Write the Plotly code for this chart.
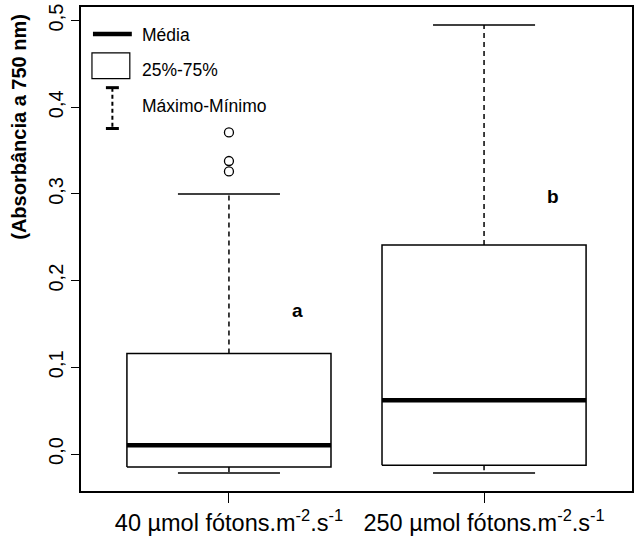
import plotly.graph_objects as go

# Summary statistics of absorbance (750 nm) for each light treatment
groups = ["40 µmol fótons.m<sup>-2</sup>.s<sup>-1</sup>",
          "250 µmol fótons.m<sup>-2</sup>.s<sup>-1</sup>"]
positions = [1, 2]
lower_whisker = [-0.022, -0.022]
q1 = [-0.015, -0.013]
median = [0.010, 0.062]
q3 = [0.116, 0.241]
upper_whisker = [0.300, 0.495]
outliers = [[0.326, 0.338, 0.371], []]

# Significance letters and their heights
sig_letters = ["a", "b"]
sig_y = [0.165, 0.297]

y_ticks = [0.0, 0.1, 0.2, 0.3, 0.4, 0.5]
y_ticktext = ["0,0", "0,1", "0,2", "0,3", "0,4", "0,5"]

FONT = "Arial, Liberation Sans, sans-serif"
BOX_HALF = 0.4
CAP_HALF = 0.2

# Axis range padded by 4% of the data span on each side
all_vals = lower_whisker + upper_whisker + [v for o in outliers for v in o]
lo, hi = min(all_vals), max(all_vals)
pad = 0.04 * (hi - lo)
y_range = [lo - pad, hi + pad]

fig = go.Figure()

for i, p in enumerate(positions):
    # Box outline (25%-75%)
    fig.add_trace(go.Scatter(
        x=[p - BOX_HALF, p + BOX_HALF, p + BOX_HALF, p - BOX_HALF, p - BOX_HALF],
        y=[q1[i], q1[i], q3[i], q3[i], q1[i]],
        mode="lines", line=dict(color="black", width=1.5),
        hoverinfo="skip", showlegend=False))
    # Median bar
    fig.add_trace(go.Scatter(
        x=[p - BOX_HALF, p + BOX_HALF], y=[median[i], median[i]],
        mode="lines", line=dict(color="black", width=4.5),
        showlegend=False))
    # Dashed whiskers
    for a, b in [(q3[i], upper_whisker[i]), (q1[i], lower_whisker[i])]:
        fig.add_trace(go.Scatter(
            x=[p, p], y=[a, b], mode="lines",
            line=dict(color="black", width=1.5, dash="5px,4px"),
            showlegend=False))
    # Whisker caps
    for v in [upper_whisker[i], lower_whisker[i]]:
        fig.add_trace(go.Scatter(
            x=[p - CAP_HALF, p + CAP_HALF], y=[v, v], mode="lines",
            line=dict(color="black", width=1.5), showlegend=False))
    # Outliers
    if outliers[i]:
        fig.add_trace(go.Scatter(
            x=[p] * len(outliers[i]), y=outliers[i], mode="markers",
            marker=dict(symbol="circle-open", size=9, color="black",
                        line=dict(width=1.3)),
            showlegend=False))
    # Letter
    fig.add_annotation(x=p + 0.27, y=sig_y[i], text=f"<b>{sig_letters[i]}</b>",
                       showarrow=False, font=dict(family=FONT, size=19, color="black"))

# Plot area in pixels, used to lay out the hand-drawn key
L, R, T, B = 81, 634, 7, 493
W, H = R - L, B - T


def px(x):
    return (x - L) / W


def py(y):
    return (B - y) / H


shapes = [
    # Média
    dict(type="line", x0=px(93), x1=px(132), y0=py(34), y1=py(34),
         line=dict(color="black", width=4.5)),
    # 25%-75%
    dict(type="rect", x0=px(92), x1=px(130), y0=py(53), y1=py(79),
         line=dict(color="black", width=1.2)),
    # Máximo-Mínimo
    dict(type="line", x0=px(112.5), x1=px(112.5), y0=py(88), y1=py(129),
         line=dict(color="black", width=2, dash="4px,3px")),
    dict(type="line", x0=px(106), x1=px(119), y0=py(88), y1=py(88),
         line=dict(color="black", width=3)),
    dict(type="line", x0=px(106), x1=px(119), y0=py(129), y1=py(129),
         line=dict(color="black", width=3)),
]
for s in shapes:
    s.update(xref="paper", yref="paper")
    fig.add_shape(**s)

for label, y in [("Média", 35), ("25%-75%", 70), ("Máximo-Mínimo", 106)]:
    fig.add_annotation(x=px(140), y=py(y), xref="paper", yref="paper",
                       text=label, showarrow=False, xanchor="left", yanchor="middle",
                       font=dict(family=FONT, size=17.5, color="black"))

# Y axis title
fig.add_annotation(x=px(18), y=py(127), xref="paper", yref="paper",
                   xanchor="center", yanchor="middle",
                   text="<b>(Absorbância a 750 nm)</b>", textangle=-90,
                   showarrow=False, font=dict(family=FONT, size=20, color="black"))

fig.update_layout(
    width=636, height=538,
    margin=dict(l=L, r=636 - R, t=T, b=538 - B),
    plot_bgcolor="white", paper_bgcolor="white",
    font=dict(family=FONT, color="black"),
    showlegend=False,
    xaxis=dict(range=[0.42, 2.58], tickvals=positions, ticktext=groups,
               ticks="outside", ticklen=10, tickwidth=1.3, tickcolor="black",
               showline=True, linecolor="black", linewidth=1.5, mirror=True,
               showgrid=False, zeroline=False,
               tickfont=dict(family=FONT, size=23.5, color="black")),
    yaxis=dict(range=y_range, tickvals=y_ticks, ticktext=y_ticktext,
               ticks="outside", ticklen=8, tickwidth=1.3, tickcolor="black",
               tickangle=-90,
               showline=True, linecolor="black", linewidth=1.5, mirror=True,
               showgrid=False, zeroline=False,
               tickfont=dict(family=FONT, size=20, color="black")),
)

fig.write_html("out.html")
